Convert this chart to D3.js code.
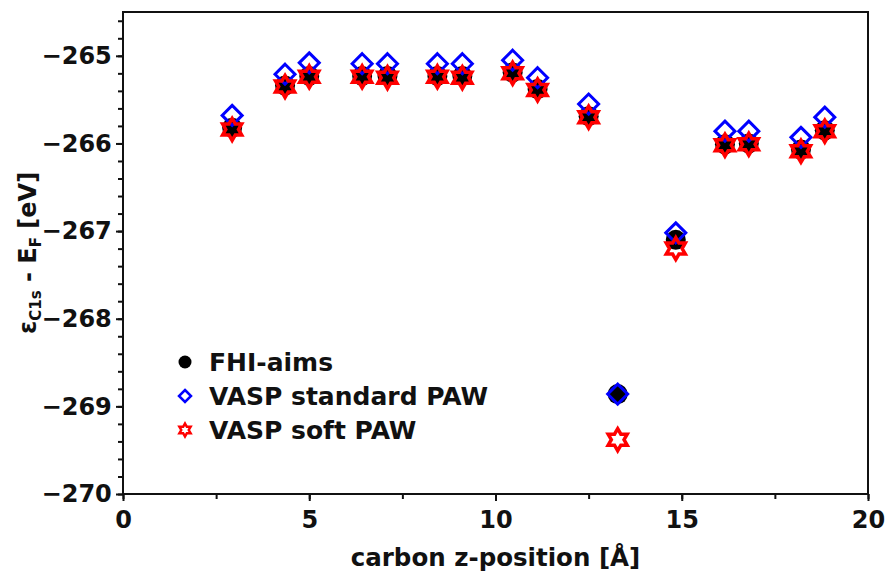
<!DOCTYPE html>
<html>
<head>
<meta charset="utf-8">
<script src="https://cdn.jsdelivr.net/npm/d3@7.9.0/dist/d3.min.js"></script>
<style>
  body { margin: 0; background: #fff; }
  svg { display: block; font-family: "DejaVu Sans", sans-serif; font-weight: bold; }
</style>
</head>
<body>
<svg id="chart" width="888" height="575"></svg>
<script>
// carbon z-position [Å]
const zPos = [2.93, 4.35, 5.0, 6.42, 7.1, 8.44, 9.11, 10.46, 11.13, 12.5, 13.28, 14.84, 16.16, 16.8, 18.2, 18.84];
// C1s core level energies [eV]
const fhiAims      = [-265.82, -265.34, -265.23, -265.23, -265.23, -265.23, -265.23, -265.19, -265.38, -265.69, -268.86, -267.10, -266.01, -266.00, -266.07, -265.85];
const vaspStandard = [-265.68, -265.21, -265.08, -265.09, -265.09, -265.09, -265.09, -265.05, -265.25, -265.55, -268.86, -267.02, -265.86, -265.86, -265.93, -265.70];
const vaspSoft     = [-265.84, -265.35, -265.24, -265.24, -265.25, -265.24, -265.25, -265.20, -265.39, -265.70, -269.38, -267.20, -266.02, -266.01, -266.09, -265.86];

const seriesNames = ['FHI-aims', 'VASP standard PAW', 'VASP soft PAW'];
const xTicks = [0, 5, 10, 15, 20];
const yTicks = [-270, -269, -268, -267, -266, -265];

const svg = d3.select('#chart');
const margin = { top: 12, right: 20, bottom: 81, left: 123 };
const width = 888, height = 575;

const x = d3.scaleLinear().domain([0, 20]).range([margin.left, width - margin.right]);
const y = d3.scaleLinear().domain([-270, -264.5]).range([height - margin.bottom, margin.top]);

// custom symbols (size = radius^2)
const diamond = {
  draw(ctx, size) {
    const r = Math.sqrt(size);
    ctx.moveTo(0, -r); ctx.lineTo(r, 0); ctx.lineTo(0, r); ctx.lineTo(-r, 0); ctx.closePath();
  }
};
const hexagram = {
  draw(ctx, size) {
    const r = Math.sqrt(size), ri = r / Math.sqrt(3);
    for (let i = 0; i < 12; i++) {
      const a = -Math.PI / 2 + i * Math.PI / 6;
      const rr = i % 2 === 0 ? r : ri;
      const px = rr * Math.cos(a), py = rr * Math.sin(a);
      if (i === 0) ctx.moveTo(px, py); else ctx.lineTo(px, py);
    }
    ctx.closePath();
  }
};

// axes
const plotBottom = height - margin.bottom;
const xAxis = svg.append('g').attr('transform', `translate(0,${plotBottom})`);
xAxis.call(d3.axisBottom(x).tickValues(d3.range(0, 20.01, 2.5)).tickFormat('').tickSize(5));
xAxis.call(g => g.append('g').call(d3.axisBottom(x).tickValues(xTicks).tickSize(7).tickFormat(d3.format('d'))));

const yAxis = svg.append('g').attr('transform', `translate(${margin.left},0)`);
yAxis.call(d3.axisLeft(y).tickValues(d3.range(-270, -264.49, 0.2)).tickFormat('').tickSize(5));
yAxis.call(g => g.append('g').call(d3.axisLeft(y).tickValues(yTicks).tickSize(7).tickFormat(d => '\u2212' + Math.abs(d))));

svg.selectAll('.domain').remove();
svg.selectAll('.tick line').attr('stroke', '#111').attr('stroke-width', 2);
svg.selectAll('.tick text')
  .attr('fill', '#111')
  .style('font-size', '24px')
  .style('font-family', '"DejaVu Sans", sans-serif')
  .style('font-weight', 'bold');
xAxis.selectAll('.tick text').attr('dy', '1.0em');
yAxis.selectAll('.tick text').attr('dx', '-0.05em');

// frame
svg.append('rect')
  .attr('x', margin.left).attr('y', margin.top)
  .attr('width', x(20) - x(0)).attr('height', plotBottom - margin.top)
  .attr('fill', 'none').attr('stroke', '#111').attr('stroke-width', 2);

// data
const pts = zPos.map((z, i) => ({ z, a: fhiAims[i], s: vaspStandard[i], p: vaspSoft[i] }));
const marks = svg.append('g');
marks.selectAll('circle.fhi').data(pts).join('circle')
  .attr('cx', d => x(d.z)).attr('cy', d => y(d.a)).attr('r', 10).attr('fill', '#000');
marks.selectAll('path.std').data(pts).join('path')
  .attr('class', 'std')
  .attr('d', d3.symbol().type(diamond).size(100))
  .attr('transform', d => `translate(${x(d.z)},${y(d.s)})`)
  .attr('fill', 'none').attr('stroke', '#0000ff').attr('stroke-width', 3);
marks.selectAll('path.soft').data(pts).join('path')
  .attr('class', 'soft')
  .attr('d', d3.symbol().type(hexagram).size(121))
  .attr('transform', d => `translate(${x(d.z)},${y(d.p)})`)
  .attr('fill', 'none').attr('stroke', '#ff0000').attr('stroke-width', 3.5);

// legend
const legend = svg.append('g').attr('transform', 'translate(185,362)');
const rowH = 34;
legend.append('circle').attr('cx', 0).attr('cy', 0).attr('r', 6.5).attr('fill', '#000');
legend.append('path').attr('d', d3.symbol().type(diamond).size(36)())
  .attr('transform', `translate(0,${rowH})`)
  .attr('fill', 'none').attr('stroke', '#0000ff').attr('stroke-width', 2.5);
legend.append('path').attr('d', d3.symbol().type(hexagram).size(42)())
  .attr('transform', `translate(0,${2 * rowH})`)
  .attr('fill', 'none').attr('stroke', '#ff0000').attr('stroke-width', 2.5);
legend.selectAll('text').data(seriesNames).join('text')
  .attr('x', 24).attr('y', (d, i) => i * rowH + 9)
  .attr('fill', '#111').style('font-size', '25px')
  .text(d => d);

// axis titles
svg.append('text')
  .attr('x', (x(0) + x(20)) / 2).attr('y', 566)
  .attr('text-anchor', 'middle').attr('fill', '#111').style('font-size', '24.5px')
  .text('carbon z-position [Å]');

const yt = svg.append('text')
  .attr('transform', `translate(36,${(margin.top + plotBottom) / 2}) rotate(-90)`)
  .attr('text-anchor', 'middle').attr('fill', '#111').style('font-size', '24px');
yt.append('tspan').text('ε');
yt.append('tspan').attr('dy', 5).style('font-size', '15px').text('C1s');
yt.append('tspan').attr('dy', -5).text(' - E');
yt.append('tspan').attr('dy', 5).style('font-size', '15px').text('F');
yt.append('tspan').attr('dy', -5).text(' [eV]');
</script>
</body>
</html>
